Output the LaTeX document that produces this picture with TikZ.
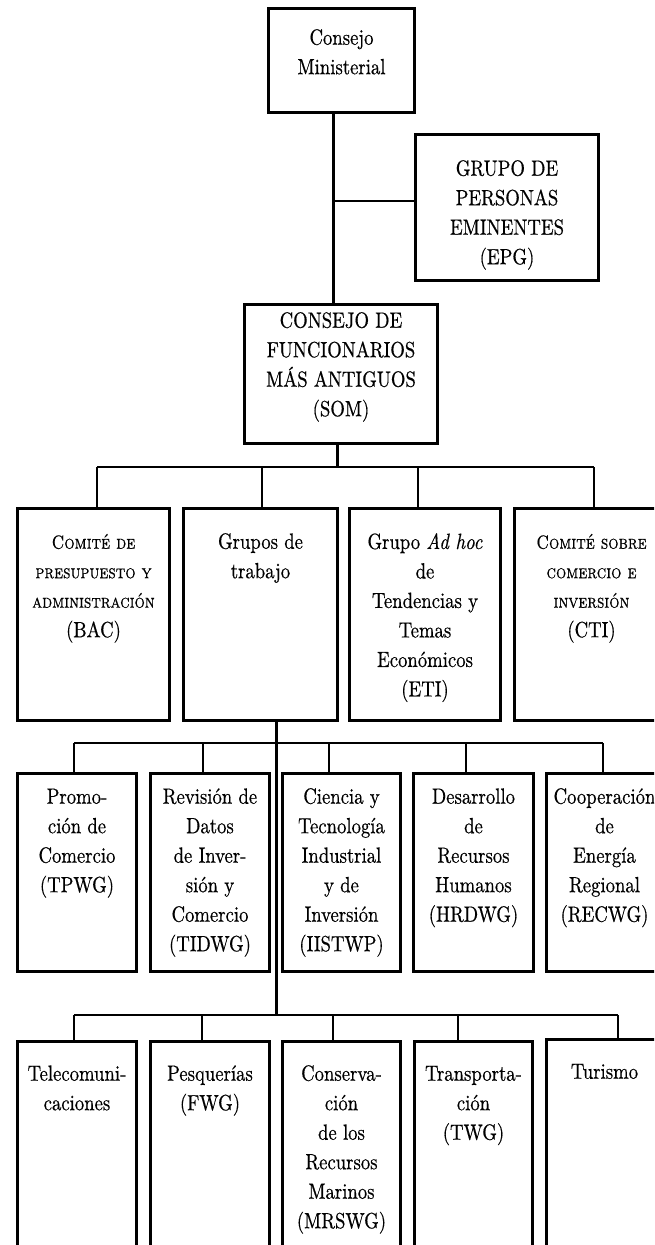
\documentclass[tikz,border=0pt]{standalone}
\usepackage{fontspec}
\setmainfont{lmroman10-regular.otf}[FakeStretch=0.85, FakeBold=0.5,
  ItalicFont=lmroman10-italic.otf,
  BoldFont=lmroman10-bold.otf,
  SmallCapsFont=lmromancaps10-regular.otf]
\newcommand{\fl}{\rule{0pt}{15.5pt}}
\newcommand{\scl}[1]{{\fontsize{19}{29.5}\selectfont\textsc{#1}}}
\begin{document}
\begin{tikzpicture}[x=1pt,y=-1pt,
  box/.style={draw=black, line width=3pt, inner sep=0pt, anchor=north west},
  lbl/.style={align=center, anchor=north, inner sep=0pt, font=\fontsize{22}{29.5}\selectfont},
  thinline/.style={line width=1.3pt, draw=black},
  trunk/.style={line width=3pt, draw=black}]
\useasboundingbox (0,0) rectangle (654,1245);
\fill[white] (0,0) rectangle (654,1245);
\clip (0,0) rectangle (654,1245);

% ---------- boxes ----------
\node[box, minimum width=146pt, minimum height=104pt] (cm) at (267,7) {};
\node[box, minimum width=183pt, minimum height=146pt] (epg) at (414,133) {};
\node[box, minimum width=193pt, minimum height=139pt] (som) at (243,303) {};

\node[box, minimum width=152pt, minimum height=212pt] (bac) at (16,507) {};
\node[box, minimum width=154pt, minimum height=212pt] (gdt) at (182,507) {};
\node[box, minimum width=151pt, minimum height=212pt] (eti) at (348,507) {};
\node[box, minimum width=162pt, minimum height=212pt] (cti) at (513,507) {};

\node[box, minimum width=119pt, minimum height=198pt] (tpwg) at (16,772) {};
\node[box, minimum width=119pt, minimum height=198pt] (tidwg) at (149,772) {};
\node[box, minimum width=118pt, minimum height=198pt] (iistwp) at (281,772) {};
\node[box, minimum width=120pt, minimum height=198pt] (hrdwg) at (412,772) {};
\node[box, minimum width=116pt, minimum height=198pt] (recwg) at (545,772) {};

\node[box, minimum width=119pt, minimum height=240pt] (tel) at (16,1040) {};
\node[box, minimum width=119pt, minimum height=240pt] (fwg) at (149,1040) {};
\node[box, minimum width=118pt, minimum height=240pt] (mrswg) at (281,1040) {};
\node[box, minimum width=118pt, minimum height=240pt] (twg) at (413,1040) {};
\node[box, minimum width=116pt, minimum height=242pt] (tur) at (545,1038) {};

% ---------- labels ----------
\node[lbl] (cmt) at ([yshift=-22pt]cm.north) {\fl Consejo\\Ministerial};
\node[lbl] (epgt) at ([yshift=-27pt]epg.north) {\fl GRUPO DE\\PERSONAS\\EMINENTES\\(EPG)};
\node[lbl] (somt) at ([yshift=-9pt]som.north) {\fl CONSEJO DE\\FUNCIONARIOS\\MÁS ANTIGUOS\\(SOM)};

\node[lbl] (bact) at ([yshift=-26pt]bac.north) {\fl\scl{Comité de}\\\scl{presupuesto y}\\\scl{administración}\\(BAC)};
\node[lbl] (gdtt) at ([yshift=-26pt]gdt.north) {\fl Grupos de\\trabajo};
\node[lbl] (etit) at ([yshift=-26pt]eti.north) {\fl Grupo \textit{Ad hoc}\\de\\Tendencias y\\Temas\\Económicos\\(ETI)};
\node[lbl] (ctit) at ([xshift=-4pt,yshift=-26pt]cti.north) {\fl\scl{Comité sobre}\\\scl{comercio e}\\\scl{inversión}\\(CTI)};

\node[lbl] (tpwgt) at ([yshift=-16pt]tpwg.north) {\fl Promo-\\ción de\\Comercio\\(TPWG)};
\node[lbl] (tidwgt) at ([yshift=-16pt]tidwg.north) {\fl Revisión de\\Datos\\de Inver-\\sión y\\Comercio\\(TIDWG)};
\node[lbl] (iistwpt) at ([yshift=-16pt]iistwp.north) {\fl Ciencia y\\Tecnología\\Industrial\\y de\\Inversión\\(IISTWP)};
\node[lbl] (hrdwgt) at ([yshift=-16pt]hrdwg.north) {\fl Desarrollo\\de\\Recursos\\Humanos\\(HRDWG)};
\node[lbl] (recwgt) at ([yshift=-16pt]recwg.north) {\fl Cooperación\\de\\Energía\\Regional\\(RECWG)};

\node[lbl] (telt) at ([yshift=-25pt]tel.north) {\fl Telecomuni-\\caciones};
\node[lbl] (fwgt) at ([yshift=-25pt]fwg.north) {\fl Pesquerías\\(FWG)};
\node[lbl] (mrswgt) at ([yshift=-25pt]mrswg.north) {\fl Conserva-\\ción\\de los\\Recursos\\Marinos\\(MRSWG)};
\node[lbl] (twgt) at ([yshift=-25pt]twg.north) {\fl Transporta-\\ción\\(TWG)};
\node[lbl] (turt) at ([yshift=-25pt]tur.north) {\fl Turismo};

% ---------- connectors ----------
\coordinate (t1) at (333,201);
\draw[trunk] (t1 |- cm.south) -- (t1 |- som.north);
\draw[thinline] (t1) -- (t1 -| epg.west);

\coordinate (t2) at (337,467);
\draw[trunk] (t2 |- som.south) -- (t2);
\coordinate (b2a) at (97,467);
\coordinate (b2b) at (262,467);
\coordinate (b2c) at (418,467);
\coordinate (b2d) at (594,467);
\draw[thinline] (b2a) -- (b2d);
\draw[thinline] (b2a) -- (b2a |- bac.north);
\draw[thinline] (b2b) -- (b2b |- gdt.north);
\draw[thinline] (b2c) -- (b2c |- eti.north);
\draw[thinline] (b2d) -- (b2d |- cti.north);

\coordinate (t3) at (276,1015);
\draw[trunk] (t3 |- gdt.south) -- (t3);

\coordinate (b3a) at (74,743);
\coordinate (b3b) at (203,743);
\coordinate (b3c) at (329,743);
\coordinate (b3d) at (466,743);
\coordinate (b3e) at (603,743);
\draw[thinline] (b3a) -- (b3e);
\draw[thinline] (b3a) -- (b3a |- tpwg.north);
\draw[thinline] (b3b) -- (b3b |- tidwg.north);
\draw[thinline] (b3c) -- (b3c |- iistwp.north);
\draw[thinline] (b3d) -- (b3d |- hrdwg.north);
\draw[thinline] (b3e) -- (b3e |- recwg.north);

\coordinate (b4a) at (74,1015);
\coordinate (b4b) at (202,1015);
\coordinate (b4c) at (333,1015);
\coordinate (b4d) at (458,1015);
\coordinate (b4e) at (618,1015);
\draw[thinline] (b4a) -- (b4e);
\draw[thinline] (b4a) -- (b4a |- tel.north);
\draw[thinline] (b4b) -- (b4b |- fwg.north);
\draw[thinline] (b4c) -- (b4c |- mrswg.north);
\draw[thinline] (b4d) -- (b4d |- twg.north);
\draw[thinline] (b4e) -- (b4e |- tur.north);
\end{tikzpicture}
\end{document}
